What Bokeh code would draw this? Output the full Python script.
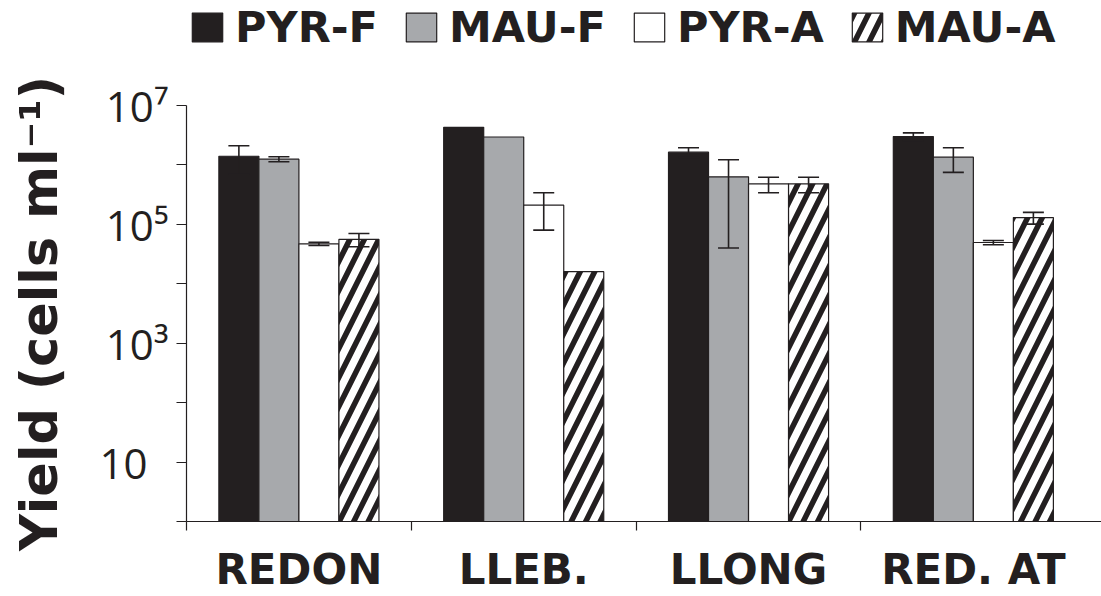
from bokeh.plotting import figure
from bokeh.layouts import column
from bokeh.models import (ColumnDataSource, Range1d, FixedTicker, Legend, LegendItem,
                          Whisker, TeeHead)
from bokeh.embed import file_html
from bokeh.resources import INLINE

# ---------------- data ----------------
categories = ["REDON", "LLEB.", "LLONG", "RED. AT"]
series = ["PYR-F", "MAU-F", "PYR-A", "MAU-A"]

pyr_f = [1.4e6, 4.3e6, 1.64e6, 3.0e6]
pyr_f_err = [7e5, 0, 3e5, 4.6e5]
mau_f = [1.25e6, 2.95e6, 6.3e5, 1.35e6]
mau_f_err = [1.2e5, 0, 5.9e5, 6e5]
pyr_a = [4.7e4, 2.1e5, 4.8e5, 4.95e4]
pyr_a_err = [3e3, 1.3e5, 1.4e5, 4e3]
mau_a = [5.6e4, 1.6e4, 4.8e5, 1.3e5]
mau_a_err = [1.4e4, 0, 1.4e5, 2.9e4]

y_ticks = [10, 1e3, 1e5, 1e7]
y_tick_labels = ["10\u2002", "10³", "10⁵", "10⁷"]
y_minor_ticks = [1, 1e2, 1e4, 1e6]
y_title = "Yield (cells ml⁻¹)"

values = [pyr_f, mau_f, pyr_a, mau_a]
errors = [pyr_f_err, mau_f_err, pyr_a_err, mau_a_err]

# ---------------- styles ----------------
INK = "#231f20"
styles = [
    dict(fill_color=INK),
    dict(fill_color="#a7a9ac"),
    dict(fill_color="#ffffff"),
    dict(fill_color="#ffffff", hatch_pattern="/", hatch_color=INK,
         hatch_weight=5.5, hatch_scale=29),
]
BAR_W = 0.178
BOLD = "DejaVu Sans"
W = 1101
LEG_H = 52

# ---------------- main chart ----------------
p = figure(width=W, height=596 - LEG_H,
           x_range=Range1d(0, 4.07), y_range=Range1d(1, 1e7),
           y_axis_type="log", output_backend="svg", toolbar_location=None,
           min_border_left=186, min_border_right=0, min_border_top=105 - LEG_H,
           min_border_bottom=0)
p.outline_line_color = None
p.grid.visible = False

for j, (name, vals, st) in enumerate(zip(series, values, styles)):
    xs = [i + 0.5 + (j - 1.5) * BAR_W for i in range(len(categories))]
    src = ColumnDataSource(dict(x=xs, top=vals))
    p.vbar(x="x", top="top", bottom=1, width=BAR_W, source=src,
           line_color=INK, line_width=1.2, **st)

# error bars (drawn after the bars)
for j, (vals, errs) in enumerate(zip(values, errors)):
    bx, up, lo = [], [], []
    for i, (v, e) in enumerate(zip(vals, errs)):
        if e > 0:
            bx.append(i + 0.5 + (j - 1.5) * BAR_W)
            up.append(v + e)
            lo.append(v - e)
    wsrc = ColumnDataSource(dict(base=bx, upper=up, lower=lo))
    w = Whisker(base="base", upper="upper", lower="lower", source=wsrc,
                line_color=INK, line_width=1.6,
                upper_head=TeeHead(size=21, line_color=INK, line_width=1.6),
                lower_head=TeeHead(size=21, line_color=INK, line_width=1.6))
    w.level = "annotation"
    p.add_layout(w)

# ---------------- axes ----------------
xa = p.xaxis[0]
xa.ticker = FixedTicker(ticks=[i + 0.5 for i in range(len(categories))],
                        minor_ticks=[float(i) for i in range(len(categories))])
xa.major_label_overrides = {i + 0.5: c for i, c in enumerate(categories)}
xa.major_tick_line_color = None
xa.major_tick_in = 0
xa.major_tick_out = 9
xa.minor_tick_in = 0
xa.minor_tick_out = 9
xa.minor_tick_line_color = INK
xa.minor_tick_line_width = 1.2
xa.axis_line_color = INK
xa.axis_line_width = 1.2
xa.major_label_standoff = 14
xa.major_label_text_font = BOLD
xa.major_label_text_font_style = "bold"
xa.major_label_text_font_size = "42px"
xa.major_label_text_color = INK

ya = p.yaxis[0]
ya.ticker = FixedTicker(ticks=y_ticks, minor_ticks=y_minor_ticks)
ya.major_label_overrides = {t: l for t, l in zip(y_ticks, y_tick_labels)}
ya.major_tick_in = 0
ya.major_tick_out = 10
ya.minor_tick_in = 0
ya.minor_tick_out = 10
ya.major_tick_line_color = INK
ya.minor_tick_line_color = INK
ya.major_tick_line_width = 1.2
ya.minor_tick_line_width = 1.2
ya.axis_line_color = INK
ya.axis_line_width = 1.2
ya.major_label_standoff = 8
ya.major_label_text_font = "Open Sans"
ya.major_label_text_font_size = "42px"
ya.major_label_text_color = INK
ya.axis_label = y_title
ya.axis_label_text_font = BOLD
ya.axis_label_text_font_style = "bold"
ya.axis_label_text_font_size = "51px"
ya.axis_label_text_color = INK
ya.axis_label_standoff = 27

# ---------------- legend strip ----------------
lf = figure(width=W, height=LEG_H, x_range=Range1d(0, 1), y_range=Range1d(0, 1),
            output_backend="svg", toolbar_location=None,
            x_axis_location=None, y_axis_location=None,
            min_border_left=0, min_border_right=0, min_border_top=0,
            min_border_bottom=0)
lf.outline_line_color = None
lf.grid.visible = False

legend_items = []
for name, st in zip(series, styles):
    # swatch renderer: one bar kept outside the visible range
    r = lf.vbar(x=[-5], top=[-4], bottom=-5, width=BAR_W,
                line_color=INK, line_width=1.2, **st)
    legend_items.append(LegendItem(label=name, renderers=[r]))

legend = Legend(items=legend_items, orientation="horizontal",
                location=(2, 0), padding=0, margin=0, spacing=24,
                label_standoff=9, glyph_width=38, glyph_height=36,
                border_line_color=None, background_fill_alpha=0,
                label_text_font=BOLD, label_text_font_style="bold",
                label_text_font_size="43px", label_text_color=INK)
lf.add_layout(legend, "center")

layout = column(lf, p, spacing=0)
open("out.html", "w").write(file_html(layout, INLINE))
